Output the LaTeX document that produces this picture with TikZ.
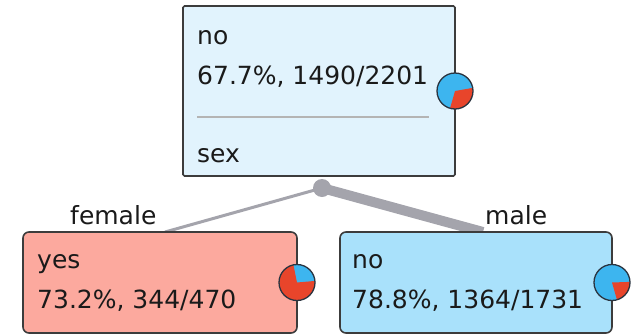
\documentclass[tikz,border=0pt]{standalone}
\usepackage{fontspec}
\setmainfont{DejaVu Sans}
\definecolor{topfill}{HTML}{E1F3FD}
\definecolor{leftfill}{HTML}{FCA99E}
\definecolor{rightfill}{HTML}{A9E1FB}
\definecolor{boxline}{HTML}{3C3C3C}
\definecolor{pieblue}{HTML}{3DB5EF}
\definecolor{piered}{HTML}{E8452B}
\definecolor{pieline}{HTML}{2A3440}
\definecolor{edgegray}{HTML}{A4A4AC}
\definecolor{sepgray}{HTML}{B4B4B4}
\definecolor{textcol}{HTML}{1A1A1A}
\begin{document}
\begin{tikzpicture}[x=1pt,y=-1pt,
  box/.style={draw=boxline, line width=1.6pt, inner sep=0pt, outer sep=0pt, anchor=north west},
  txt/.style={anchor=base west, inner sep=0pt, font=\fontsize{25}{30}\selectfont, text=textcol},
  edge/.style={draw=edgegray, line cap=butt},
  pieedge/.style={draw=pieline, line width=1.3pt}]
\useasboundingbox (0,0) rectangle (644,335);
\coordinate (split) at (322,188);
% box outlines placed first so connectors can end on them
\path (183,6) node[box, draw=none, minimum width=272pt, minimum height=170pt] (top) {};
\path (23,232) node[box, draw=none, minimum width=274pt, minimum height=101pt] (left) {};
\path (340,232) node[box, draw=none, minimum width=272pt, minimum height=101pt] (right) {};
% connectors
\draw[edge, line width=3pt] (split) -- ([xshift=5pt]left.north);
\draw[edge, line width=10pt] (split) -- ([xshift=7pt]right.north);
\fill[edgegray] (split) circle[radius=9];
% visible boxes
\node[box, fill=topfill, minimum width=272pt, minimum height=170pt, rounded corners=1.5pt] (topbox) at (183,6) {};
\node[box, fill=leftfill, minimum width=274pt, minimum height=101pt, rounded corners=6pt] (leftbox) at (23,232) {};
\node[box, fill=rightfill, minimum width=272pt, minimum height=101pt, rounded corners=6pt] (rightbox) at (340,232) {};
% texts
\node[txt] (t1) at (197,44) {no};
\node[txt] (t2) at (197,84) {67.7\%, 1490/2201};
\draw[sepgray, line width=1.5pt] (197,117) -- (429,117);
\node[txt] (t3) at (197,162) {sex};
\node[txt] (l1) at (37,268) {yes};
\node[txt] (l2) at (37,308) {73.2\%, 344/470};
\node[txt] (r1) at (352,268) {no};
\node[txt] (r2) at (352,308) {78.8\%, 1364/1731};
\node[txt] (fl) at (70,224) {female};
\node[txt] (ml) at (485,224) {male};
% pies
\fill[pieblue] (topbox.east) circle[radius=18];
\fill[piered] (topbox.east) -- ++(-10:18) arc[start angle=-10, end angle=106, radius=18] -- cycle;
\draw[pieedge] (topbox.east) circle[radius=18];
\fill[pieblue] (leftbox.east) circle[radius=18];
\fill[piered] (leftbox.east) -- ++(-5:18) arc[start angle=-5, end angle=258.5, radius=18] -- cycle;
\draw[pieedge] (leftbox.east) circle[radius=18];
\fill[pieblue] (rightbox.east) circle[radius=18];
\fill[piered] (rightbox.east) -- ++(-2:18) arc[start angle=-2, end angle=74, radius=18] -- cycle;
\draw[pieedge] (rightbox.east) circle[radius=18];
\end{tikzpicture}
\end{document}
